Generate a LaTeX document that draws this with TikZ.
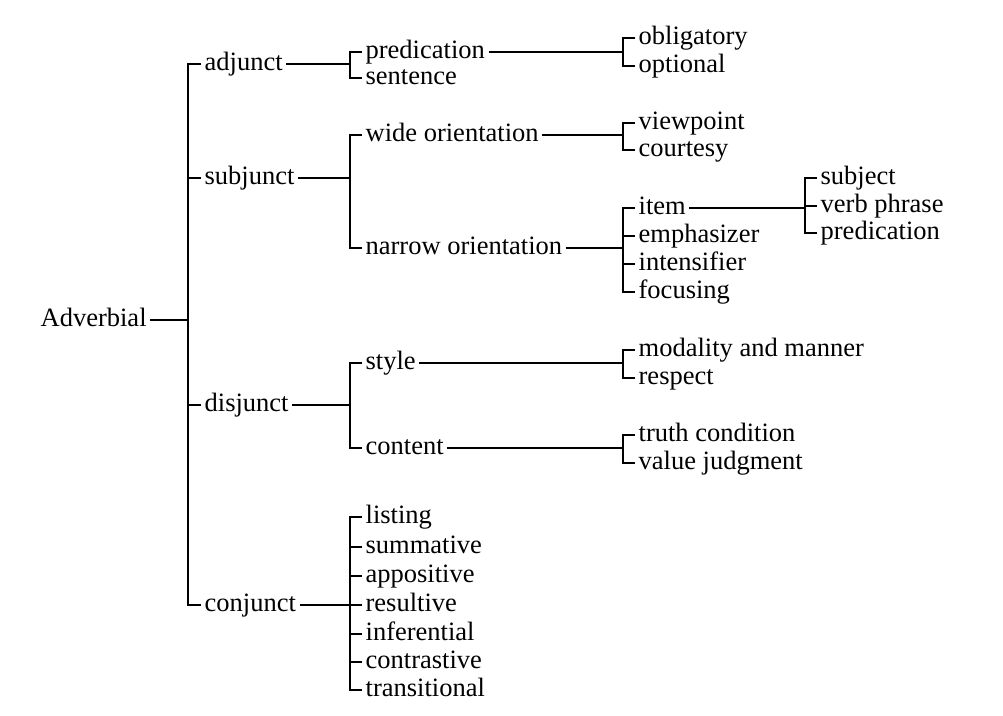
\documentclass[tikz,border=0pt]{standalone}
\usepackage{fontspec}
\setmainfont{Liberation Serif}
\begin{document}
\fontsize{26.5}{28}\selectfont
\begin{tikzpicture}[x=1pt,y=-1pt,line width=1.3pt,
	lbl/.style={anchor=mid west,inner sep=3pt}]
	\useasboundingbox (0,0) rectangle (1003,715);
	% bracket columns
	\coordinate (b0) at (188,0);
	\coordinate (b1) at (350,0);
	\coordinate (b2) at (623,0);
	\coordinate (b3) at (805,0);
	% labels
	\node[lbl] (adv) at (37,320) {Adverbial};
	\node[lbl] (adj) at (201,64) {adjunct};
	\node[lbl] (sub) at (201,178) {subjunct};
	\node[lbl] (dis) at (201,405) {disjunct};
	\node[lbl] (con) at (201,605) {conjunct};
	\node[lbl] (pred) at (362,52) {predication};
	\node[lbl] (sent) at (362,78) {sentence};
	\node[lbl] (wide) at (362,135) {wide orientation};
	\node[lbl] (narrow) at (362,248) {narrow orientation};
	\node[lbl] (sty) at (362,363) {style};
	\node[lbl] (cont) at (362,448) {content};
	\node[lbl] (lst) at (362,517) {listing};
	\node[lbl] (summ) at (362,547) {summative};
	\node[lbl] (appos) at (362,576) {appositive};
	\node[lbl] (resul) at (362,605) {resultive};
	\node[lbl] (infer) at (362,634) {inferential};
	\node[lbl] (contr) at (362,662) {contrastive};
	\node[lbl] (trans) at (362,690) {transitional};
	\node[lbl] (oblig) at (635,38) {obligatory};
	\node[lbl] (opt) at (635,66) {optional};
	\node[lbl] (viewp) at (635,123) {viewpoint};
	\node[lbl] (court) at (635,150) {courtesy};
	\node[lbl] (item) at (635,208) {item};
	\node[lbl] (emph) at (635,236) {emphasizer};
	\node[lbl] (intens) at (635,264) {intensifier};
	\node[lbl] (focus) at (635,292) {focusing};
	\node[lbl] (modal) at (635,350) {modality and manner};
	\node[lbl] (resp) at (635,378) {respect};
	\node[lbl] (truth) at (635,435) {truth condition};
	\node[lbl] (value) at (635,463) {value judgment};
	\node[lbl] (subj) at (817,178) {subject};
	\node[lbl] (verbp) at (817,206) {verb phrase};
	\node[lbl] (predc) at (817,233) {predication};
	% brackets: parent/bracket/first/last/middle children
	\foreach \p/\b/\f/\l/\ms in {adv/b0/adj/con/{sub,dis},
		adj/b1/pred/sent/{},
		sub/b1/wide/narrow/{},
		dis/b1/sty/cont/{},
		con/b1/lst/trans/{summ,appos,resul,infer,contr},
		pred/b2/oblig/opt/{},
		wide/b2/viewp/court/{},
		narrow/b2/item/focus/{emph,intens},
		sty/b2/modal/resp/{},
		cont/b2/truth/value/{},
		item/b3/subj/predc/{verbp}}{
		\draw (\p.mid east) -- (\p.mid east -| \b);
		\draw (\f.mid west) -- (\f.mid west -| \b) -- (\l.mid west -| \b) -- (\l.mid west);
		\foreach \m in \ms {\draw (\m.mid west) -- (\m.mid west -| \b);}
	}
\end{tikzpicture}
\end{document}
